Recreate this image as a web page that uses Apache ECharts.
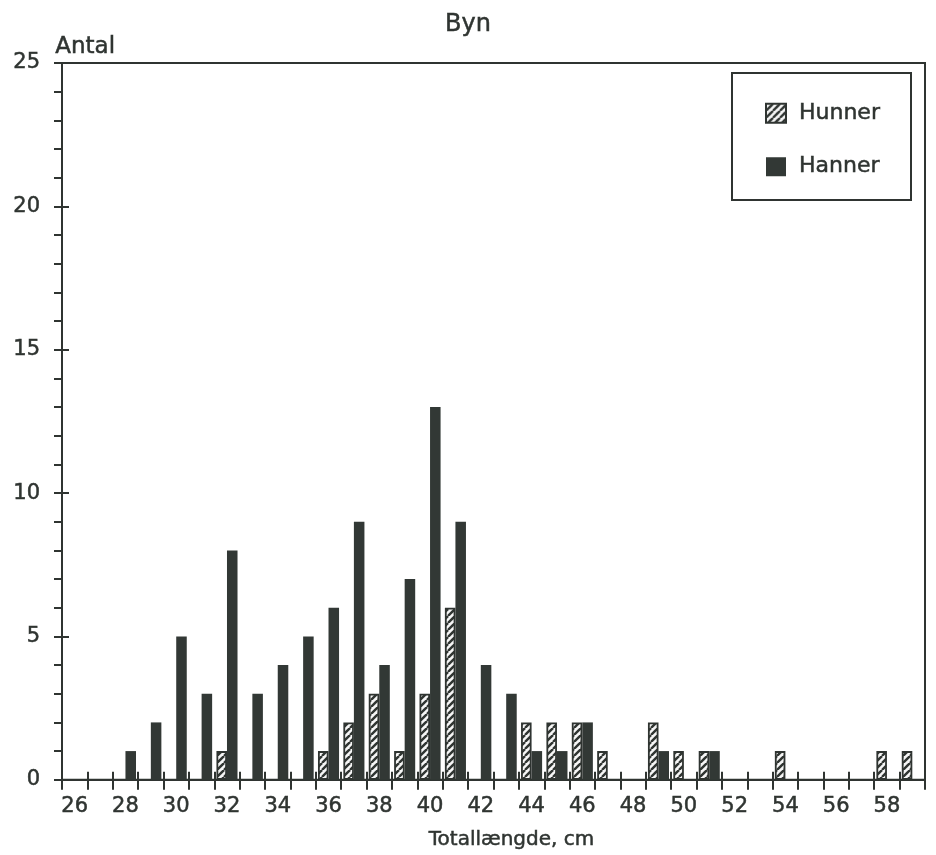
<!DOCTYPE html>
<html>
<head>
<meta charset="utf-8">
<script src="https://cdn.jsdelivr.net/npm/echarts@6/dist/echarts.min.js"></script>
<style>
  html, body { margin: 0; padding: 0; background: #fff; }
  #chart { width: 936px; height: 855px; }
</style>
</head>
<body>
<div id="chart"></div>
<script>
// Length classes (cm) and counts per class
const lengths = [26, 27, 28, 29, 30, 31, 32, 33, 34, 35, 36, 37, 38, 39, 40, 41, 42,
                 43, 44, 45, 46, 47, 48, 49, 50, 51, 52, 53, 54, 55, 56, 57, 58, 59];
const hunner  = [0, 0, 0, 0, 0, 0, 1, 0, 0, 0, 1, 2, 3, 1, 3, 6, 0,
                 0, 2, 2, 2, 1, 0, 2, 1, 1, 0, 0, 1, 0, 0, 0, 1, 1];
const hanner  = [0, 0, 1, 2, 5, 3, 8, 3, 4, 5, 6, 9, 4, 7, 13, 9, 4,
                 3, 1, 1, 2, 0, 0, 1, 0, 1, 0, 0, 0, 0, 0, 0, 0, 0];
const yTicks = [0, 5, 10, 15, 20, 25];

const FONT = 'DejaVu Sans';
const INK = '#2f3431';
// slight stroke around glyphs to give the heavier print look
const heavy = { textBorderColor: INK, textBorderWidth: 0.5 };

// Diagonal hatch fill for the female bars
const hatch = document.createElement('canvas');
hatch.width = 7; hatch.height = 7;
const hc = hatch.getContext('2d');
hc.fillStyle = '#f6f6f6';
hc.fillRect(0, 0, 7, 7);
hc.strokeStyle = INK;
hc.lineWidth = 2.4;
for (const k of [-7, 0, 7]) {
  hc.beginPath();
  hc.moveTo(k, 7);
  hc.lineTo(k + 7, 0);
  hc.stroke();
}

const blankZero = arr => arr.map(v => (v === 0 ? '-' : v));

const chart = echarts.init(document.getElementById('chart'), null, { renderer: 'canvas' });

const option = {
  backgroundColor: '#fff',
  animation: false,
  title: {
    text: 'Byn',
    left: 'center',
    top: 8,
    textStyle: Object.assign({ fontFamily: FONT, fontSize: 24, fontWeight: 'normal', color: INK }, heavy)
  },
  legend: {
    orient: 'vertical',
    left: 765,
    top: 102,
    itemWidth: 20,
    itemHeight: 19,
    itemGap: 31,
    padding: 0,
    z: 10,
    icon: 'rect',
    data: ['Hunner', 'Hanner'],
    textStyle: Object.assign({ fontFamily: FONT, fontSize: 22, color: INK, padding: [0, 0, 0, 8] }, heavy)
  },
  graphic: [
    {
      type: 'rect',
      z: 5,
      shape: { x: 732, y: 73, width: 179, height: 127 },
      style: { fill: '#fff', stroke: INK, lineWidth: 2 }
    },
    {
      type: 'text',
      z: 5,
      left: 55,
      top: 35,
      style: { text: 'Antal', font: '23px "DejaVu Sans"', fill: INK, stroke: INK, lineWidth: 0.5 }
    }
  ],
  grid: {
    left: 62, right: 11, top: 63, bottom: 72,
    show: true,
    borderColor: INK,
    borderWidth: 2
  },
  xAxis: [
    {
      type: 'category',
      data: lengths,
      boundaryGap: true,
      name: 'Totallængde, cm',
      nameLocation: 'middle',
      nameGap: 50,
      nameTextStyle: Object.assign({ fontFamily: FONT, fontSize: 20, color: INK, padding: [0, 0, 0, 36] }, heavy),
      axisLine: { lineStyle: { color: INK, width: 2 } },
      axisTick: { show: true, interval: 0, inside: false, length: 10, lineStyle: { color: INK, width: 2 } },
      axisLabel: Object.assign({ interval: 1, margin: 16, fontFamily: FONT, fontSize: 21, color: INK }, heavy),
      splitLine: { show: false }
    },
    {
      type: 'category',
      data: lengths,
      position: 'bottom',
      boundaryGap: true,
      axisLine: { show: false },
      axisTick: { show: true, interval: 0, inside: true, length: 8, lineStyle: { color: INK, width: 2 } },
      axisLabel: { show: false },
      splitLine: { show: false }
    }
  ],
  yAxis: [
    {
      type: 'value',
      min: yTicks[0],
      max: yTicks[yTicks.length - 1],
      interval: 5,
      axisLine: { show: true, lineStyle: { color: INK, width: 2 } },
      axisTick: { show: true, inside: false, length: 8, lineStyle: { color: INK, width: 2 } },
      minorTick: { show: true, splitNumber: 5, length: 8, lineStyle: { color: INK, width: 2 } },
      axisLabel: Object.assign({ margin: 22, fontFamily: FONT, fontSize: 21, color: INK }, heavy),
      splitLine: { show: false }
    },
    {
      type: 'value',
      position: 'left',
      min: yTicks[0],
      max: yTicks[yTicks.length - 1],
      interval: 5,
      axisLine: { show: false },
      axisTick: { show: true, inside: true, length: 7, lineStyle: { color: INK, width: 2 } },
      axisLabel: { show: false },
      splitLine: { show: false }
    }
  ],
  series: [
    {
      name: 'Hunner',
      type: 'bar',
      xAxisIndex: 0,
      yAxisIndex: 0,
      data: blankZero(hunner),
      barGap: '0%',
      barCategoryGap: '17%',
      itemStyle: {
        color: { image: hatch, repeat: 'repeat' },
        borderColor: INK,
        borderWidth: 1.8
      }
    },
    {
      name: 'Hanner',
      type: 'bar',
      xAxisIndex: 0,
      yAxisIndex: 0,
      data: blankZero(hanner),
      barGap: '0%',
      barCategoryGap: '17%',
      itemStyle: { color: '#323835', borderColor: '#323835', borderWidth: 0 }
    }
  ]
};

chart.setOption(option);
</script>
</body>
</html>
